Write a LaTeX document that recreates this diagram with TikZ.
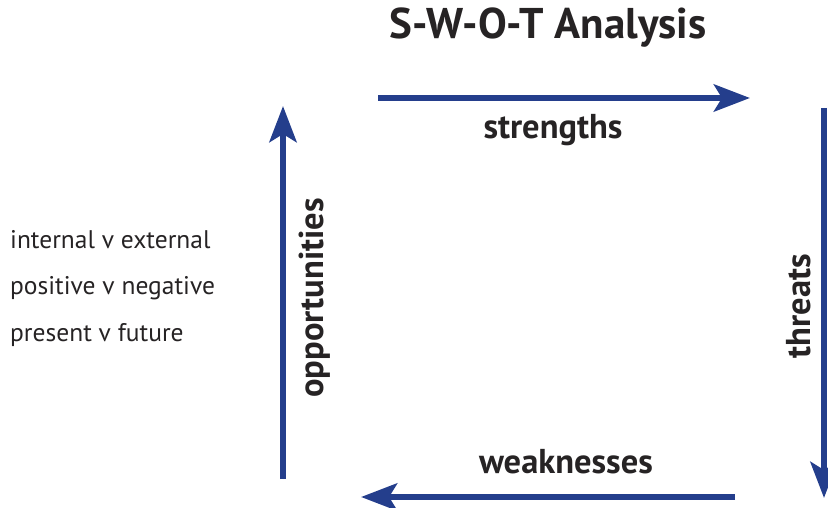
\documentclass[tikz,border=0pt]{standalone}
\usepackage{fontspec}
\setmainfont{PT Sans}
\usetikzlibrary{arrows.meta}

\definecolor{swotblue}{RGB}{36,62,140}
\definecolor{swotgrey}{RGB}{38,35,36}

\begin{document}
\begin{tikzpicture}[x=1pt,y=-1pt,
    swotarrow/.style={-{Stealth[length=36pt,width=27pt,inset=8pt]}, line width=6.5pt, draw=swotblue, fill=swotblue},
    swotlabel/.style={text=swotgrey, font=\bfseries\fontsize{34.5}{40}\selectfont},
    aspect/.style={text=swotgrey, anchor=west, inner sep=0pt, font=\fontsize{25.5}{30}\selectfont}]
    \useasboundingbox (0,0) rectangle (828,508);

    \node[text=swotgrey, font=\bfseries\fontsize{43}{50}\selectfont] (title) at (548,28) {S-W-O-T Analysis};

    % ends of the four arrows
    \coordinate (sA) at (378,98);
    \coordinate (sB) at (750,98);
    \coordinate (tA) at (824,108);
    \coordinate (tB) at (824,498);
    \coordinate (wA) at (735,497);
    \coordinate (wB) at (361,497);
    \coordinate (oA) at (283,479);
    \coordinate (oB) at (283,106);

    \draw[swotarrow] (sA) -- (sB);
    \draw[swotarrow] (tA) -- (tB);
    \draw[swotarrow] (wA) -- (wB);
    \draw[swotarrow] (oA) -- (oB);

    \node[swotlabel] (strengths) at (553,130) {strengths};
    \node[swotlabel, rotate=90] (threats) at (799,306) {threats};
    \node[swotlabel] (weaknesses) at (566,462) {weaknesses};
    \node[swotlabel, rotate=90] (opportunities) at (315,298) {opportunities};

    \node[aspect] (internal) at (10,240) {internal v external};
    \node[aspect] (positive) at (10,288) {positive v negative};
    \node[aspect] (present) at (10,335) {present v future};
\end{tikzpicture}
\end{document}
